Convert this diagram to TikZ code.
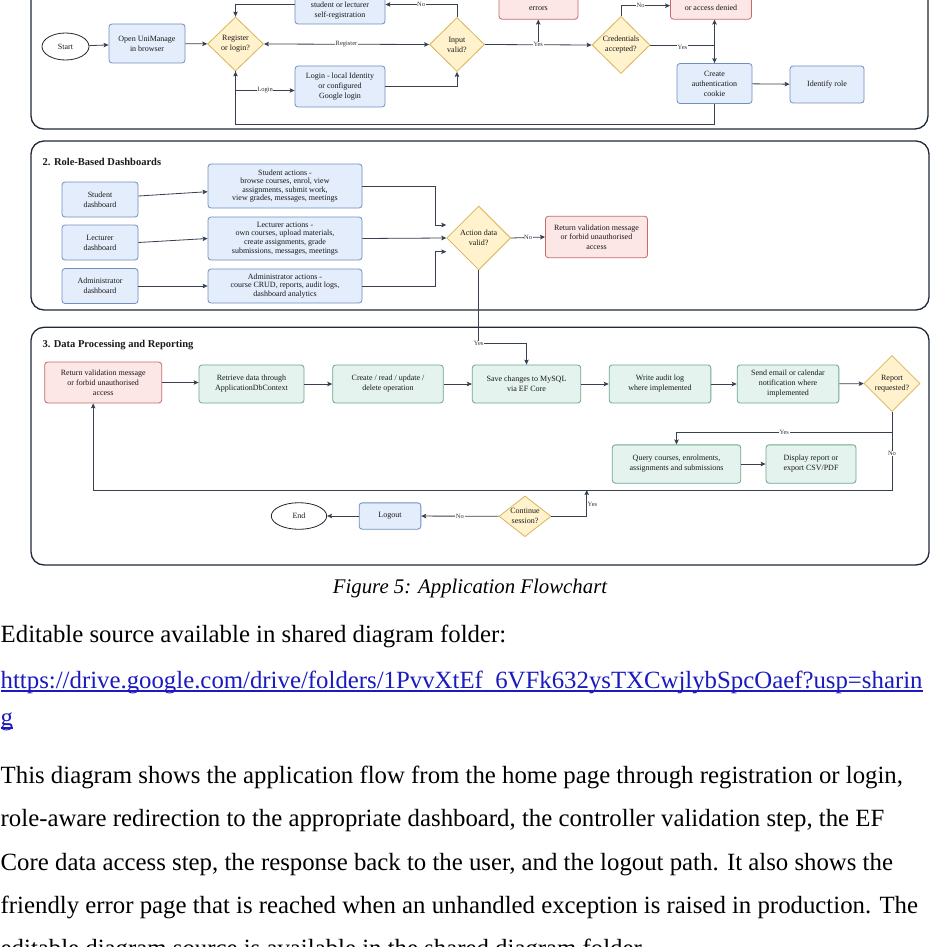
\documentclass[tikz,border=0pt]{standalone}
\usepackage{fontspec}
\setmainfont{Liberation Serif}
\usetikzlibrary{shapes.geometric,arrows.meta}
\definecolor{bluefill}{HTML}{E4EDFB}
\definecolor{bluedraw}{HTML}{6F8FBF}
\definecolor{redfill}{HTML}{FCE6E6}
\definecolor{reddraw}{HTML}{C56B6B}
\definecolor{greenfill}{HTML}{E4F3EE}
\definecolor{greendraw}{HTML}{6FA58F}
\definecolor{yelfill}{HTML}{FFF2CC}
\definecolor{yeldraw}{HTML}{D6B656}
\definecolor{linecol}{HTML}{37414F}
\definecolor{framecol}{HTML}{1F2937}
\definecolor{linkblue}{HTML}{1A1AC0}
\newcommand{\fsz}[2]{\fontsize{#1}{#2}\selectfont}
\begin{document}
\begin{tikzpicture}[x=1pt,y=-1pt,
	box/.style={draw,rounded corners=3pt,align=center,line width=0.8pt,inner sep=1pt,font=\fsz{8}{10},text=black!90},
	bluebox/.style={box,draw=bluedraw,fill=bluefill},
	redbox/.style={box,draw=reddraw,fill=redfill},
	greenbox/.style={box,draw=greendraw,fill=greenfill},
	decision/.style={diamond,draw=yeldraw,fill=yelfill,line width=0.8pt,align=center,inner sep=0pt,font=\fsz{8}{10},text=black!90},
	terminal/.style={ellipse,draw=black!85,fill=white,line width=0.8pt,font=\fsz{8}{10},text=black!90},
	frame/.style={draw=framecol,line width=1.3pt,rounded corners=13pt},
	arr/.style={draw=linecol,line width=0.8pt,-{Stealth[length=5pt,width=4.5pt,inset=1pt]}},
	arrboth/.style={draw=linecol,line width=0.8pt,{Stealth[length=5pt,width=4.5pt,inset=1pt]}-{Stealth[length=5pt,width=4.5pt,inset=1pt]}},
	lbl/.style={fill=white,inner sep=0.6pt,font=\fsz{6.5}{7},text=black!80},
	sectitle/.style={anchor=west,inner sep=0pt,font=\fsz{10.5}{12}\bfseries,text=black!90},
	body/.style={anchor=base west,inner sep=0pt,font=\fsz{24.8}{30}},
	]
	\useasboundingbox(0,0)rectangle(940,947);
	\fill[white](0,0)rectangle(940,947);
	\clip(0,0)rectangle(940,947);

	% 1. sign in (top cut off)
	\draw[frame](31,-40)rectangle(928,129);
	\node[terminal,minimum width=47pt,minimum height=27pt](start)at(65.5,46.5){Start};
	\node[bluebox,minimum width=76pt,minimum height=39pt](open)at(147,43.5){Open UniManage\\in browser};
	\node[decision,minimum width=56pt,minimum height=54pt](reg)at(235.5,44){Register\\or login?};
	\node[bluebox,minimum width=90pt,minimum height=39pt](selfreg)at(340,4.5){\strut\\student or lecturer\\self-registration};
	\node[redbox,minimum width=79pt,minimum height=35pt](valerr)at(538.5,1.7){\strut\\errors};
	\node[decision,minimum width=55pt,minimum height=54pt](input)at(457,44.5){Input\\valid?};
	\node[bluebox,minimum width=90pt,minimum height=41pt](login)at(340,86.5){Login - local Identity\\or configured\\Google login};
	\node[decision,minimum width=58pt,minimum height=57pt](cred)at(621,45){Credentials\\accepted?};
	\node[redbox,minimum width=81pt,minimum height=35pt](denied)at(711,1.7){\strut\\or access denied};
	\node[bluebox,minimum width=75pt,minimum height=40pt](cookie)at(714.5,83.5){Create\\authentication\\cookie};
	\node[bluebox,minimum width=74pt,minimum height=37pt](role)at(827,84.5){Identify role};

	\draw[arr](start)--(open);
	\draw[arr](open)--(reg);
	\draw[arr](input.north)|-node[lbl,pos=0.75]{No}(selfreg.east);
	\draw[arr](selfreg.west)-|(reg.north);
	\draw[arrboth](reg.east)--node[lbl]{Register}(input.west);
	\draw[arr](reg.south)|-node[lbl,pos=0.75]{Login}([yshift=-4pt]login.west);
	\draw[arr](login.east)-|(input.south);
	\draw[arr](input.east)--node[lbl](yes1){Yes}(cred.west);
	\draw[arr](yes1)--(yes1|-valerr.south);
	\draw[arr](cred.north)|-node[lbl,pos=0.7]{No}([yshift=-4pt]denied.west);
	\draw[arr](cred.east)-|node[lbl,pos=0.25,yshift=-2pt]{Yes}(cookie.north);
	\coordinate(split)at(cookie.north|-cred.east);
	\draw[arr](split)--(split|-denied.south);
	\draw[arr](cookie)--(role);
	\draw[arr](cookie.south)--++(0,21)-|(reg.south);

	% 2. dashboards
	\draw[frame](31,141)rectangle(929,310);
	\node[sectitle](t2)at(42.5,161.5){2. Role-Based Dashboards};
	\node[bluebox,minimum width=76pt,minimum height=35pt](sdash)at(100,199.5){Student\\dashboard};
	\node[bluebox,minimum width=76pt,minimum height=35pt](ldash)at(100,242.5){Lecturer\\dashboard};
	\node[bluebox,minimum width=76pt,minimum height=35pt](adash)at(100,286){Administrator\\dashboard};
	\node[bluebox,minimum width=154pt,minimum height=44pt,font=\fsz{8}{8.6}](sact)at(285,186){Student actions -\\browse courses, enrol, view\\assignments, submit work,\\view grades, messages, meetings};
	\node[bluebox,minimum width=154pt,minimum height=43pt,font=\fsz{8}{8.6}](lact)at(285,238.5){Lecturer actions -\\own courses, upload materials,\\create assignments, grade\\submissions, messages, meetings};
	\node[bluebox,minimum width=154pt,minimum height=34pt,font=\fsz{8}{8.6}](aact)at(285,286){Administrator actions -\\course CRUD, reports, audit logs,\\dashboard analytics};
	\node[decision,minimum width=64pt,minimum height=64pt](act)at(478.7,238){Action data\\valid?};
	\node[redbox,minimum width=102pt,minimum height=41.5pt,font=\fsz{8}{9.3}](deny1)at(596.5,237){Return validation message\\or forbid unauthorised\\access};

	\draw[arr]([yshift=3.5pt]sdash.east)--([yshift=-5.7pt]sact.west);
	\draw[arr](ldash.east)--(lact.west);
	\draw[arr](adash.east)--(aact.west);
	\draw[arr](sact.east)-|([xshift=-11pt,yshift=13pt]act.west)--([yshift=13pt]act.west);
	\draw[arr](lact.east)--(act.west);
	\draw[arr](aact.east)-|([xshift=-11pt,yshift=-13.7pt]act.west)--([yshift=-13.7pt]act.west);
	\draw[arr](act.east)--node[lbl]{No}(deny1.west);

	% 3. data and reports
	\draw[frame](31,327.3)rectangle(929,565);
	\node[sectitle](t3)at(42.3,345){3. Data Processing and Reporting};
	\node[redbox,minimum width=117pt,minimum height=41pt](deny2)at(103.2,382.5){Return validation message\\or forbid unauthorised\\access};
	\node[greenbox,minimum width=105pt,minimum height=38pt](fetch)at(251.5,384){Retrieve data through\\ApplicationDbContext};
	\node[greenbox,minimum width=110.6pt,minimum height=38pt](crud)at(388,384){Create / read / update /\\delete operation};
	\node[greenbox,minimum width=108.4pt,minimum height=38pt](save)at(526.5,384){Save changes to MySQL\\via EF Core};
	\node[greenbox,minimum width=101.7pt,minimum height=38pt](audit)at(660,384){Write audit log\\where implemented};
	\node[greenbox,minimum width=101.7pt,minimum height=38pt](notify)at(788,384){Send email or calendar\\notification where\\implemented};
	\node[decision,minimum width=56pt,minimum height=56pt](report)at(892,383.5){Report\\requested?};
	\node[greenbox,minimum width=128.4pt,minimum height=38.3pt](query)at(676.5,464){Query courses, enrolments,\\assignments and submissions};
	\node[greenbox,minimum width=90pt,minimum height=38.3pt](export)at(811,464){Display report or\\export CSV/PDF};
	\node[decision,minimum width=52pt,minimum height=40.7pt,aspect=1.3,inner sep=-2pt](cont)at(525,516.3){Continue\\session?};
	\node[bluebox,minimum width=61.7pt,minimum height=26.3pt](logout)at(390,516){Logout};
	\node[terminal,minimum width=55.4pt,minimum height=26.6pt](stop)at(299,516){End};

	\draw[arr](act.south)--++(0,73)node[lbl]{Yes}-|(save.north);
	\draw[arr](deny2.east)--(deny2.east-|fetch.west);
	\draw[arr](fetch)--(crud);
	\draw[arr](crud)--(save);
	\draw[arr](save)--(audit);
	\draw[arr](audit)--(notify);
	\draw[arr](notify)--(report);
	\coordinate(fork)at(892,432);
	\draw[arr](report.south)--(fork)-|node[lbl,pos=0.25]{Yes}(query.north);
	\draw[arr](fork)--++(0,58)node[lbl,pos=0.37]{No}-|([xshift=-10pt]deny2.south);
	\draw[arr](query)--(export);
	\coordinate(rejoin)at(586.7,490);
	\draw[arr](cont.east)-|node[lbl,pos=0.72,anchor=west,fill=none]{Yes}(rejoin);
	\draw[arr](cont)--node[lbl]{No}(logout);
	\draw[arr](logout)--(stop);

	% caption and text below
	\node[anchor=base,inner sep=0pt,font=\fsz{20.8}{25}\itshape](cap)at(470,593){Figure 5: Application Flowchart};
	\node[body](src)at(0.5,642.7){Editable source available in shared diagram folder:};
	\node[body,text=linkblue](url)at(0.5,688){https://drive.google.com/drive/folders/1PvvXtEf\_6VFk632ysTXCwjlybSpcOaef?usp=sharin};
	\draw[linkblue,line width=1.1pt]([yshift=-3pt]url.base west)--([yshift=-3pt]url.base east);
	\node[body,text=linkblue](urlend)at(0.5,725){g};
	\draw[linkblue,line width=1.1pt]([yshift=-3pt]urlend.base west)--([yshift=-3pt]urlend.base east);
	\node[body](p1)at(0.5,783.3){This diagram shows the application flow from the home page through registration or login,};
	\node[body](p2)at(0.5,826.7){role-aware redirection to the appropriate dashboard, the controller validation step, the EF};
	\node[body](p3)at(0.5,870){Core data access step, the response back to the user, and the logout path. It also shows the};
	\node[body](p4)at(0.5,913.3){friendly error page that is reached when an unhandled exception is raised in production. The};
	\node[body](p5)at(0.5,956.7){editable diagram source is available in the shared diagram folder.};
\end{tikzpicture}
\end{document}
